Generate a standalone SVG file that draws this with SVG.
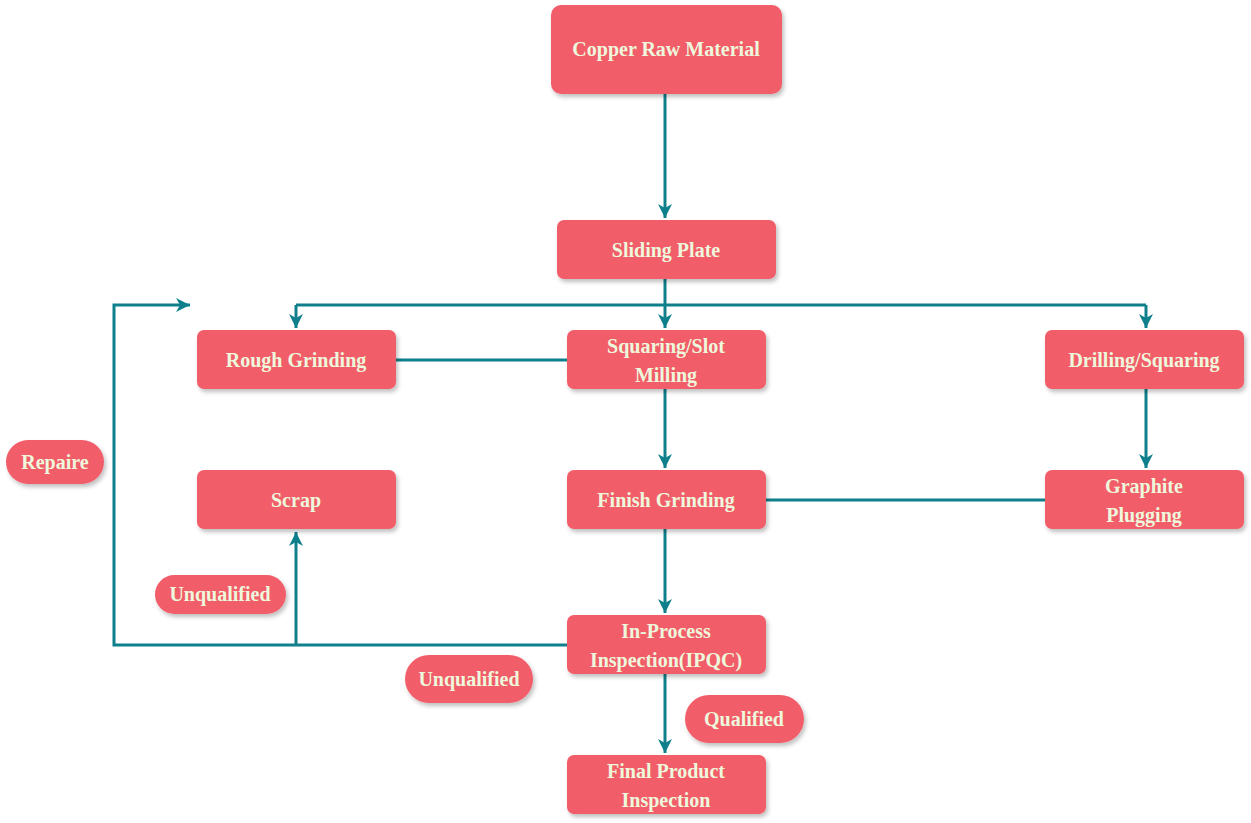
<svg xmlns="http://www.w3.org/2000/svg" width="1251" height="823" viewBox="0 0 1251 823">
<defs>
<filter id="sh" x="-10%" y="-10%" width="130%" height="140%"><feDropShadow dx="2" dy="3" stdDeviation="2" flood-color="#000" flood-opacity="0.25"/></filter>
<marker id="ar" markerWidth="10" markerHeight="10" refX="8" refY="5" orient="auto" markerUnits="userSpaceOnUse"><path d="M0,0 L10,5 L0,10 L3,5 Z" fill="#0E7F8B"/></marker>
<marker id="ab" markerWidth="16" markerHeight="16" refX="14" refY="7" orient="auto" markerUnits="userSpaceOnUse"><path d="M0,0 L14,7 L0,14 L4,7 Z" fill="#0E7F8B"/></marker>
</defs>
<style>
.n rect{fill:#F25D6B;filter:url(#sh)}
.n text{fill:#EEF8DC;font-family:"Liberation Serif",serif;font-weight:bold;font-size:20px;text-anchor:middle}
.c path{fill:none;stroke:#0E7F8B;stroke-width:3}
</style>
<rect width="1251" height="823" fill="#fff"/>
<g class="c">
<path d="M665,94 V218" marker-end="url(#ab)"/>
<path d="M665,279 V305"/>
<path d="M296,305 H1146"/>
<path d="M296,305 V328" marker-end="url(#ab)"/>
<path d="M665,305 V328" marker-end="url(#ab)"/>
<path d="M1146,305 V328" marker-end="url(#ab)"/>
<path d="M396,360 H567"/>
<path d="M665,389 V468" marker-end="url(#ab)"/>
<path d="M1146,389 V468" marker-end="url(#ab)"/>
<path d="M766,500 H1045"/>
<path d="M665,529 V613" marker-end="url(#ab)"/>
<path d="M665,674 V753" marker-end="url(#ab)"/>
<path d="M567,645 H114 V305 H190" marker-end="url(#ab)"/>
<path d="M296,645 V532" marker-end="url(#ab)"/>
</g>
<g id="copper" class="n"><rect x="551" y="5" width="231" height="89" rx="10"/><text x="666" y="56">Copper Raw Material</text></g>
<g id="sliding" class="n"><rect x="557" y="220" width="219" height="59" rx="7"/><text x="666" y="257">Sliding Plate</text></g>
<g id="rough" class="n"><rect x="197" y="330" width="199" height="59" rx="7"/><text x="296" y="367">Rough Grinding</text></g>
<g id="squaring" class="n"><rect x="567" y="330" width="199" height="59" rx="7"/><text x="666" y="353">Squaring/Slot</text><text x="666" y="382">Milling</text></g>
<g id="drilling" class="n"><rect x="1045" y="330" width="199" height="59" rx="7"/><text x="1144" y="367">Drilling/Squaring</text></g>
<g id="scrap" class="n"><rect x="197" y="470" width="199" height="59" rx="7"/><text x="296" y="507">Scrap</text></g>
<g id="finish" class="n"><rect x="567" y="470" width="199" height="59" rx="7"/><text x="666" y="507">Finish Grinding</text></g>
<g id="graphite" class="n"><rect x="1045" y="470" width="199" height="59" rx="7"/><text x="1144" y="493">Graphite</text><text x="1144" y="522">Plugging</text></g>
<g id="ipqc" class="n"><rect x="567" y="615" width="199" height="59" rx="7"/><text x="666" y="638">In-Process</text><text x="666" y="667">Inspection(IPQC)</text></g>
<g id="final" class="n"><rect x="567" y="755" width="199" height="59" rx="7"/><text x="666" y="778">Final Product</text><text x="666" y="807">Inspection</text></g>
<g id="repaire" class="n"><rect x="6" y="440" width="98" height="44" rx="22"/><text x="55" y="469">Repaire</text></g>
<g id="unq1" class="n"><rect x="155" y="575" width="131" height="39" rx="19.5"/><text x="220" y="601">Unqualified</text></g>
<g id="unq2" class="n"><rect x="405" y="655" width="128" height="48" rx="24"/><text x="469" y="686">Unqualified</text></g>
<g id="qual" class="n"><rect x="685" y="695" width="119" height="48" rx="24"/><text x="744" y="726">Qualified</text></g>
</svg>
